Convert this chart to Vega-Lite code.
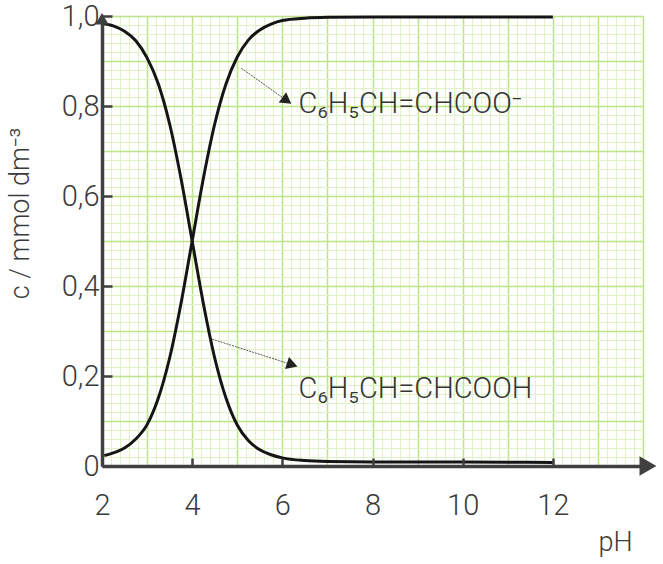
{
  "$schema": "https://vega.github.io/schema/vega-lite/v6.json",
  "width": 541,
  "height": 450,
  "autosize": {"type": "none"},
  "padding": {"left": 102, "top": 16, "right": 20, "bottom": 98},
  "background": "white",
  "config": {
    "view": {"stroke": null},
    "font": "Roboto",
    "text": {"font": "Roboto"}
  },
  "datasets": {
    "curves": [
      {"pH": 2.05, "c": 0.023, "species": "anion"},
      {"pH": 2.25, "c": 0.029, "species": "anion"},
      {"pH": 2.5, "c": 0.04, "species": "anion"},
      {"pH": 2.75, "c": 0.06, "species": "anion"},
      {"pH": 3.0, "c": 0.092, "species": "anion"},
      {"pH": 3.25, "c": 0.151, "species": "anion"},
      {"pH": 3.5, "c": 0.24, "species": "anion"},
      {"pH": 3.75, "c": 0.36, "species": "anion"},
      {"pH": 4.0, "c": 0.5, "species": "anion"},
      {"pH": 4.25, "c": 0.64, "species": "anion"},
      {"pH": 4.5, "c": 0.76, "species": "anion"},
      {"pH": 4.75, "c": 0.849, "species": "anion"},
      {"pH": 5.0, "c": 0.909, "species": "anion"},
      {"pH": 5.25, "c": 0.947, "species": "anion"},
      {"pH": 5.5, "c": 0.969, "species": "anion"},
      {"pH": 5.75, "c": 0.982, "species": "anion"},
      {"pH": 6.0, "c": 0.99, "species": "anion"},
      {"pH": 6.5, "c": 0.995, "species": "anion"},
      {"pH": 7.0, "c": 0.997, "species": "anion"},
      {"pH": 8.0, "c": 0.998, "species": "anion"},
      {"pH": 10.0, "c": 0.998, "species": "anion"},
      {"pH": 12.0, "c": 0.998, "species": "anion"},
      {"pH": 2.0, "c": 0.984, "species": "acid"},
      {"pH": 2.25, "c": 0.978, "species": "acid"},
      {"pH": 2.5, "c": 0.966, "species": "acid"},
      {"pH": 2.75, "c": 0.945, "species": "acid"},
      {"pH": 3.0, "c": 0.907, "species": "acid"},
      {"pH": 3.25, "c": 0.849, "species": "acid"},
      {"pH": 3.5, "c": 0.76, "species": "acid"},
      {"pH": 3.75, "c": 0.64, "species": "acid"},
      {"pH": 4.0, "c": 0.5, "species": "acid"},
      {"pH": 4.25, "c": 0.36, "species": "acid"},
      {"pH": 4.5, "c": 0.24, "species": "acid"},
      {"pH": 4.75, "c": 0.151, "species": "acid"},
      {"pH": 5.0, "c": 0.091, "species": "acid"},
      {"pH": 5.25, "c": 0.056, "species": "acid"},
      {"pH": 5.5, "c": 0.036, "species": "acid"},
      {"pH": 5.75, "c": 0.025, "species": "acid"},
      {"pH": 6.0, "c": 0.018, "species": "acid"},
      {"pH": 6.5, "c": 0.012, "species": "acid"},
      {"pH": 7.0, "c": 0.01, "species": "acid"},
      {"pH": 8.0, "c": 0.009, "species": "acid"},
      {"pH": 10.0, "c": 0.009, "species": "acid"},
      {"pH": 12.0, "c": 0.008, "species": "acid"}
    ],
    "pointers": [
      {"species": "anion", "pH": 5.09, "c": 0.884, "pH2": 6.1, "c2": 0.812},
      {"species": "acid", "pH": 4.44, "c": 0.282, "pH2": 6.22, "c2": 0.225}
    ],
    "labels": [
      {"pH": 6.36, "c": 0.784, "label": "C₆H₅CH=CHCOO⁻"},
      {"pH": 6.36, "c": 0.151, "label": "C₆H₅CH=CHCOOH"}
    ],
    "axisEnds": [
      {"pH": 2.0, "c": 0.994, "end": "y"},
      {"pH": 14.11, "c": 0.0, "end": "x"}
    ]
  },
  "layer": [
    {
      "data": {"name": "curves"},
      "mark": {"type": "point", "opacity": 0},
      "encoding": {
        "x": {
          "field": "pH", "type": "quantitative",
          "scale": {"domain": [2, 14], "nice": false, "zero": false},
          "axis": {
            "orient": "bottom", "grid": true, "gridColor": "#e0f2c6", "gridWidth": 1,
            "domain": false, "ticks": false, "labels": false, "title": null,
            "values": [2.2,2.4,2.6,2.8,3,3.2,3.4,3.6,3.8,4,4.2,4.4,4.6,4.8,5,5.2,5.4,5.6,5.8,6,6.2,6.4,6.6,6.8,7,7.2,7.4,7.6,7.8,8,8.2,8.4,8.6,8.8,9,9.2,9.4,9.6,9.8,10,10.2,10.4,10.6,10.8,11,11.2,11.4,11.6,11.8,12,12.2,12.4,12.6,12.8,13,13.2,13.4,13.6,13.8,14]
          }
        },
        "y": {
          "field": "c", "type": "quantitative",
          "scale": {"domain": [0, 1], "nice": false},
          "axis": {
            "orient": "left", "grid": true, "gridColor": "#e0f2c6", "gridWidth": 1,
            "domain": false, "ticks": false, "labels": false, "title": null,
            "values": [0.02,0.04,0.06,0.08,0.1,0.12,0.14,0.16,0.18,0.2,0.22,0.24,0.26,0.28,0.3,0.32,0.34,0.36,0.38,0.4,0.42,0.44,0.46,0.48,0.5,0.52,0.54,0.56,0.58,0.6,0.62,0.64,0.66,0.68,0.7,0.72,0.74,0.76,0.78,0.8,0.82,0.84,0.86,0.88,0.9,0.92,0.94,0.96,0.98,1]
          }
        }
      }
    },
    {
      "data": {"name": "curves"},
      "mark": {"type": "point", "opacity": 0},
      "encoding": {
        "x": {
          "field": "pH", "type": "quantitative",
          "scale": {"domain": [2, 14], "nice": false, "zero": false},
          "axis": {
            "orient": "bottom", "grid": true, "gridColor": "#bde487", "gridWidth": 1.5,
            "domain": false, "ticks": false, "labels": false, "title": null,
            "values": [3,4,5,6,7,8,9,10,11,12,13,14]
          }
        },
        "y": {
          "field": "c", "type": "quantitative",
          "scale": {"domain": [0, 1], "nice": false},
          "axis": {
            "orient": "left", "grid": true, "gridColor": "#bde487", "gridWidth": 1.5,
            "domain": false, "ticks": false, "labels": false, "title": null,
            "values": [0.1,0.2,0.3,0.4,0.5,0.6,0.7,0.8,0.9,1]
          }
        }
      }
    },
    {
      "data": {"name": "curves"},
      "mark": {"type": "line", "color": "#151515", "strokeWidth": 3, "interpolate": "monotone"},
      "encoding": {
        "x": {
          "field": "pH", "type": "quantitative",
          "scale": {"domain": [2, 14], "nice": false, "zero": false},
          "axis": {
            "orient": "bottom", "grid": false, "zindex": 1,
            "values": [2,4,6,8,10,12], "labelFlush": false,
            "domainColor": "#404040", "domainWidth": 3.5,
            "tickColor": "#404040", "tickWidth": 2.5, "tickSize": -8,
            "labelFontSize": 29, "labelFontWeight": 300, "labelColor": "#3a3a3a", "labelPadding": 33,
            "title": "pH", "titleFontSize": 27, "titleFontWeight": 300, "titleColor": "#3a3a3a",
            "titleX": 530, "titleY": 84, "titleAlign": "right", "titleBaseline": "alphabetic"
          }
        },
        "y": {
          "field": "c", "type": "quantitative",
          "scale": {"domain": [0, 1], "nice": false},
          "axis": {
            "orient": "left", "grid": false, "zindex": 1,
            "values": [0,0.2,0.4,0.6,0.8,1],
            "labelExpr": "datum.value == 0 ? '0' : replace(format(datum.value, '.1f'), '.', ',')",
            "domainColor": "#404040", "domainWidth": 3.5,
            "tickColor": "#404040", "tickWidth": 2.5, "tickSize": -10,
            "labelFontSize": 29, "labelFontWeight": 300, "labelColor": "#3a3a3a", "labelPadding": 13,
            "title": "c / mmol dm⁻³", "titleFontSize": 27, "titleFontWeight": 300, "titleColor": "#3a3a3a",
            "titleX": -82, "titleY": 197, "titleAlign": "center", "titleBaseline": "middle", "titleAngle": -90
          }
        },
        "detail": {"field": "species"}
      }
    },
    {
      "data": {"name": "pointers"},
      "mark": {"type": "rule", "color": "#555555", "strokeWidth": 1, "strokeDash": [2, 1]},
      "encoding": {
        "x": {"field": "pH", "type": "quantitative", "axis": null},
        "y": {"field": "c", "type": "quantitative", "axis": null},
        "x2": {"field": "pH2"},
        "y2": {"field": "c2"}
      }
    },
    {
      "data": {"name": "pointers"},
      "transform": [{"filter": "datum.species == 'anion'"}],
      "mark": {"type": "point", "shape": "triangle-right", "filled": true, "color": "#222222", "opacity": 1, "size": 160, "angle": 36},
      "encoding": {
        "x": {"field": "pH2", "type": "quantitative", "axis": null},
        "y": {"field": "c2", "type": "quantitative", "axis": null}
      }
    },
    {
      "data": {"name": "pointers"},
      "transform": [{"filter": "datum.species == 'acid'"}],
      "mark": {"type": "point", "shape": "triangle-right", "filled": true, "color": "#222222", "opacity": 1, "size": 160, "angle": 18},
      "encoding": {
        "x": {"field": "pH2", "type": "quantitative", "axis": null},
        "y": {"field": "c2", "type": "quantitative", "axis": null}
      }
    },
    {
      "data": {"name": "labels"},
      "mark": {"type": "text", "align": "left", "baseline": "alphabetic", "fontSize": 29, "fontWeight": 300, "color": "#333333"},
      "encoding": {
        "x": {"field": "pH", "type": "quantitative", "axis": null},
        "y": {"field": "c", "type": "quantitative", "axis": null},
        "text": {"field": "label"}
      }
    },
    {
      "data": {"name": "axisEnds"},
      "transform": [{"filter": "datum.end == 'y'"}],
      "mark": {"type": "point", "shape": "triangle-up", "filled": true, "color": "#404040", "opacity": 1, "size": 180},
      "encoding": {
        "x": {"field": "pH", "type": "quantitative", "axis": null},
        "y": {"field": "c", "type": "quantitative", "axis": null}
      }
    },
    {
      "data": {"name": "axisEnds"},
      "transform": [{"filter": "datum.end == 'x'"}],
      "mark": {"type": "point", "shape": "triangle-right", "filled": true, "color": "#404040", "opacity": 1, "size": 380},
      "encoding": {
        "x": {"field": "pH", "type": "quantitative", "axis": null},
        "y": {"field": "c", "type": "quantitative", "axis": null}
      }
    }
  ],
  "resolve": {"axis": {"x": "independent", "y": "independent"}}
}
